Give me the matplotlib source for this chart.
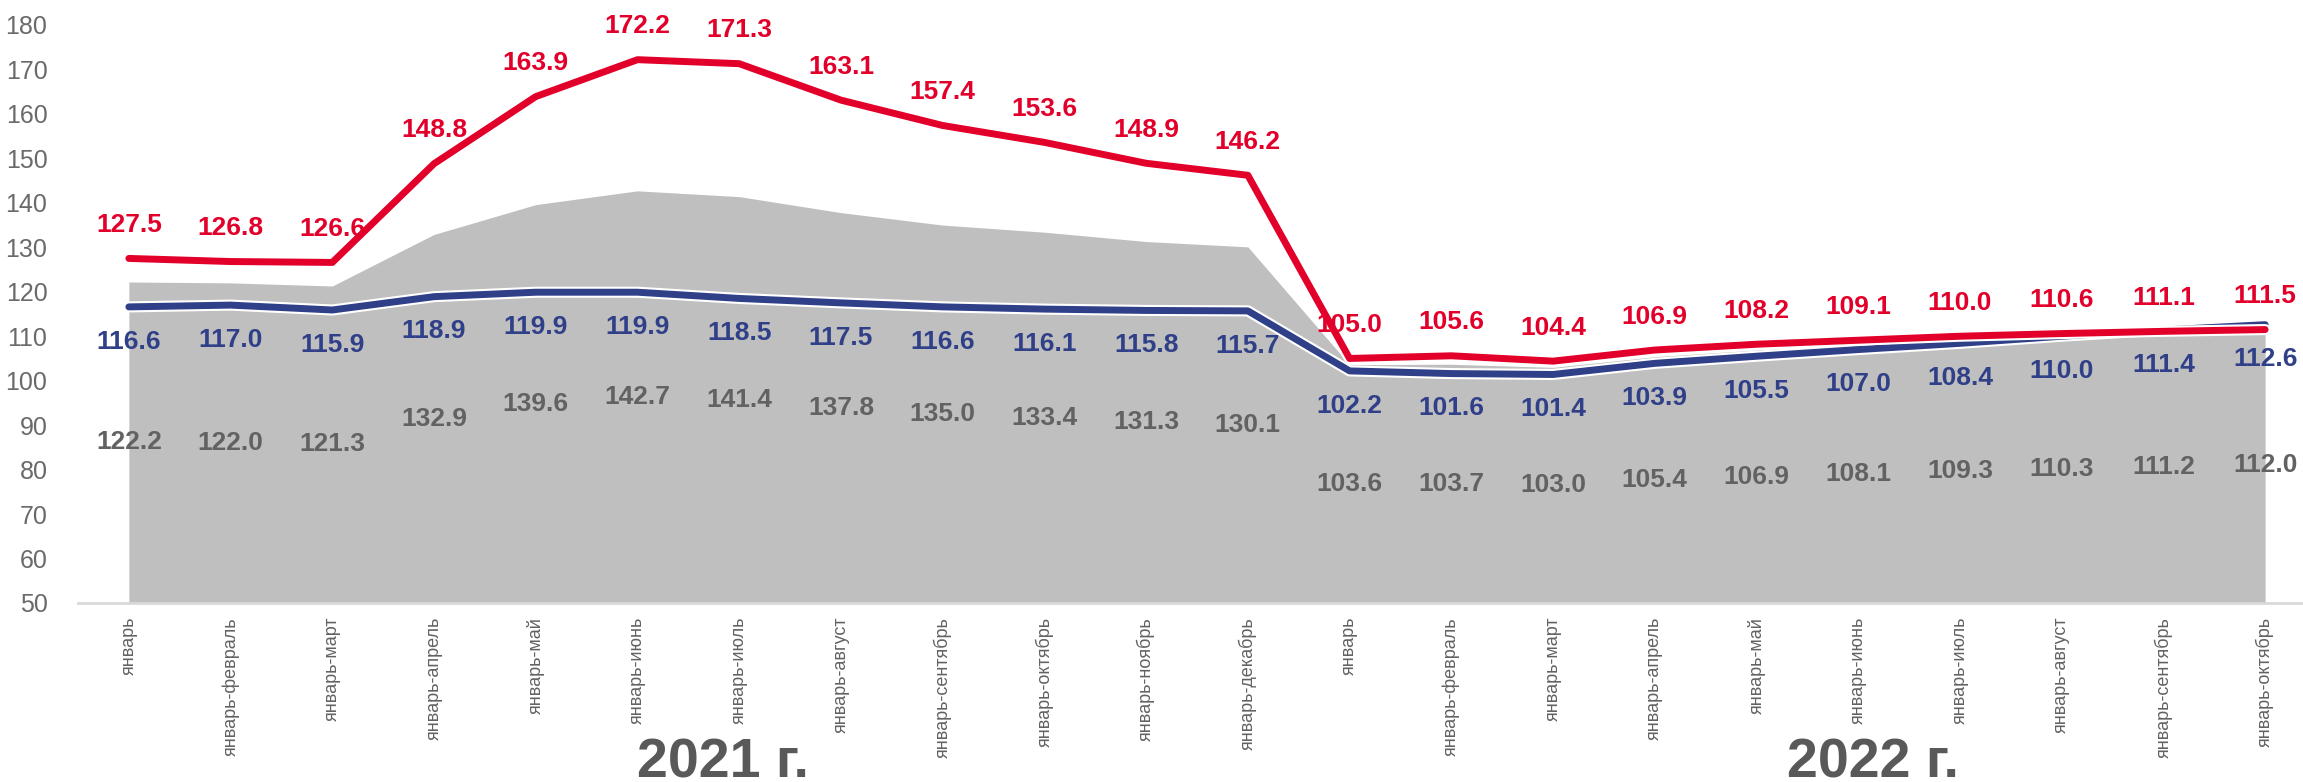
import matplotlib.pyplot as plt
import matplotlib.patheffects as pe
import matplotlib.transforms as mtransforms
import numpy as np

months = ['январь', 'январь-февраль', 'январь-март', 'январь-апрель', 'январь-май',
          'январь-июнь', 'январь-июль', 'январь-август', 'январь-сентябрь',
          'январь-октябрь', 'январь-ноябрь', 'январь-декабрь',
          'январь', 'январь-февраль', 'январь-март', 'январь-апрель', 'январь-май',
          'январь-июнь', 'январь-июль', 'январь-август', 'январь-сентябрь',
          'январь-октябрь']

red_vals = [127.5, 126.8, 126.6, 148.8, 163.9, 172.2, 171.3, 163.1, 157.4, 153.6, 148.9,
            146.2, 105.0, 105.6, 104.4, 106.9, 108.2, 109.1, 110.0, 110.6, 111.1, 111.5]
blue_vals = [116.6, 117.0, 115.9, 118.9, 119.9, 119.9, 118.5, 117.5, 116.6, 116.1, 115.8,
             115.7, 102.2, 101.6, 101.4, 103.9, 105.5, 107.0, 108.4, 110.0, 111.4, 112.6]
gray_vals = [122.2, 122.0, 121.3, 132.9, 139.6, 142.7, 141.4, 137.8, 135.0, 133.4, 131.3,
             130.1, 103.6, 103.7, 103.0, 105.4, 106.9, 108.1, 109.3, 110.3, 111.2, 112.0]

years = ['2021 г.', '2022 г.']
year_pos = [5.84, 17.15]

RED = '#e2002b'
BLUE = '#2f3f88'
GRAY_AREA = '#bfbfbf'
GRAY_TXT = '#626262'


def main():
    plt.rcParams['font.family'] = ['Liberation Sans', 'DejaVu Sans']

    fig = plt.figure(figsize=(23.03, 7.82), dpi=100)
    ax = fig.add_axes([78 / 2303, 1 - 603 / 782, 2238 / 2303, 578 / 782])

    x = np.arange(len(months))
    ymin, ymax = 50, 180

    ax.fill_between(x, ymin, gray_vals, color=GRAY_AREA, lw=0, zorder=1)

    outline = [pe.Stroke(linewidth=8, foreground='white'), pe.Normal()]
    ax.plot(x, blue_vals, color=BLUE, lw=5, solid_capstyle='round',
            solid_joinstyle='round', path_effects=outline, zorder=3)
    ax.plot(x, red_vals, color=RED, lw=5, solid_capstyle='round',
            solid_joinstyle='round', path_effects=outline, zorder=4)

    for i in range(len(months)):
        ax.annotate('{:.1f}'.format(red_vals[i]), (x[i], red_vals[i]),
                    xytext=(0, 24), textcoords='offset points', ha='center', va='center',
                    fontsize=19, fontweight='bold', color=RED, zorder=5)
        ax.annotate('{:.1f}'.format(blue_vals[i]), (x[i], blue_vals[i]),
                    xytext=(0, -25), textcoords='offset points', ha='center', va='center',
                    fontsize=19, fontweight='bold', color=BLUE, zorder=5)
        ax.text(x[i], (gray_vals[i] + ymin) / 2, '{:.1f}'.format(gray_vals[i]),
                ha='center', va='center', fontsize=19, fontweight='bold',
                color=GRAY_TXT, zorder=5)

    ax.set_xlim(-0.5, len(months) - 0.5)
    ax.set_ylim(ymin, ymax)
    ax.set_yticks(np.arange(50, 181, 10))
    ax.set_xticks(x)
    ax.set_xticklabels(months, rotation=90, fontsize=13, color=GRAY_TXT)
    ax.tick_params(axis='y', length=0, pad=22, labelsize=18, labelcolor='#6a6a6a')
    ax.tick_params(axis='x', length=0, pad=10)

    for s in ['top', 'right', 'left']:
        ax.spines[s].set_visible(False)
    ax.spines['bottom'].set_color('#d9d9d9')
    ax.spines['bottom'].set_linewidth(2)
    ax.spines['bottom'].set_zorder(2)

    trans = mtransforms.blended_transform_factory(ax.transData, fig.transFigure)
    for name, pos in zip(years, year_pos):
        ax.text(pos, 1 - 778 / 782, name, transform=trans, ha='center', va='baseline',
                fontsize=40, fontweight='bold', color='#595959')

    fig.savefig('out.png', dpi=100)


if __name__ == '__main__':
    main()
